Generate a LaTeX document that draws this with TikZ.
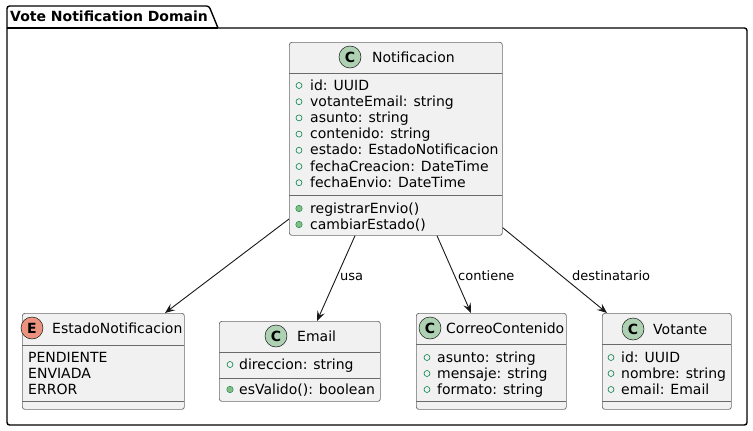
\documentclass[tikz,border=0pt]{standalone}
\usepackage{fontspec}
\setmainfont{DejaVu Sans}
\usetikzlibrary{arrows.meta,calc}
\definecolor{boxfill}{HTML}{F1F1F1}
\definecolor{boxline}{HTML}{181818}
\definecolor{boxedge}{HTML}{6A6A6A}
\definecolor{cfill}{HTML}{ADD1B2}
\definecolor{efill}{HTML}{EB937F}
\definecolor{attrgreen}{HTML}{038048}
\definecolor{methfill}{HTML}{84BE84}
\tikzset{
  classbox/.style={draw=boxedge, fill=boxfill, line width=0.7pt, rounded corners=2.5pt, inner sep=0pt, anchor=north west},
  sepline/.style={draw=boxedge, line width=0.7pt},
  txt/.style={anchor=base west, inner sep=0pt, font=\fontsize{14}{16}\selectfont},
  lbl/.style={anchor=base west, inner sep=0pt, font=\fontsize{13}{15}\selectfont},
  hdrc/.style={circle, draw=boxline, line width=0.5pt, fill=cfill, minimum size=22pt, inner sep=0pt, font=\fontsize{14}{16}\selectfont\bfseries},
  hdre/.style={hdrc, fill=efill},
  attr/.style={circle, draw=attrgreen, line width=0.6pt, fill=none, minimum size=6pt, inner sep=0pt},
  meth/.style={circle, draw=attrgreen, line width=0.4pt, fill=methfill, minimum size=6.5pt, inner sep=0pt},
  arr/.style={draw=boxline, line width=0.9pt, -{Stealth[length=10pt, width=8pt, inset=4pt]}},
  pkg/.style={draw=black, line width=1.4pt, rounded corners=2.5pt}
}
\begin{document}
\begin{tikzpicture}[x=1pt, y=-1pt]
\useasboundingbox (0,0) rectangle (753,431);
% package
\draw[pkg] (218,28) -- (747,28) -- (747,425) -- (7,425) -- (7,6) -- (209,6) -- (218,28);
\draw[pkg] (218,28) -- (7,28);
\node[txt, font=\fontsize{14}{16}\selectfont\bfseries] (ptitle) at (10,21) {Vote Notification Domain};

% Notificacion
\node[classbox, minimum width=213pt, minimum height=193pt] (notif) at (289,42) {};
\node[hdrc] (notifc) at (350,57) {C};
\node[txt] (notifn) at (372,62) {Notificacion};
\draw[sepline] (289,73) -- (502,73);
\draw[sepline] (289,195) -- (502,195);
\foreach \t [count=\i from 0] in {id: UUID, votanteEmail: string, asunto: string, contenido: string, estado: EstadoNotificacion, fechaCreacion: DateTime, fechaEnvio: DateTime} {
  \node[attr] (na\i) at (299,{90+16.2*\i-4.5}) {};
  \node[txt] (nt\i) at (310,{90+16.2*\i}) {\t};
}
\node[meth] (nm0) at (299,208.5) {};
\node[txt] (nmt0) at (310,213) {registrarEnvio()};
\node[meth] (nm1) at (299,224.5) {};
\node[txt] (nmt1) at (310,229) {cambiarEstado()};

% EstadoNotificacion
\node[classbox, minimum width=162pt, minimum height=96pt] (estado) at (22,313) {};
\node[hdre] (estadoc) at (32,328) {E};
\node[txt] (estadon) at (52,333) {EstadoNotificacion};
\draw[sepline] (22,345) -- (184,345);
\draw[sepline] (22,401) -- (184,401);
\node[txt] (el0) at (28,362) {PENDIENTE};
\node[txt] (el1) at (28,378) {ENVIADA};
\node[txt] (el2) at (28,394) {ERROR};

% Email
\node[classbox, minimum width=161pt, minimum height=80pt] (email) at (219,321) {};
\node[hdrc] (emailc) at (276,336) {C};
\node[txt] (emailn) at (297,341) {Email};
\draw[sepline] (219,352) -- (380,352);
\draw[sepline] (219,378) -- (380,378);
\node[attr] (ea0) at (230,364.5) {};
\node[txt] (et0) at (239,369) {direccion: string};
\node[meth] (em0) at (230,389.5) {};
\node[txt] (emt0) at (239,394) {esValido(): boolean};

% CorreoContenido
\node[classbox, minimum width=150pt, minimum height=96pt] (correo) at (416,313) {};
\node[hdrc] (correoc) at (430,328) {C};
\node[txt] (correon) at (446,333) {CorreoContenido};
\draw[sepline] (416,344) -- (566,344);
\draw[sepline] (416,401) -- (566,401);
\foreach \t [count=\i from 0] in {asunto: string, mensaje: string, formato: string} {
  \node[attr] (ca\i) at (427,{362+16*\i-4.5}) {};
  \node[txt] (ct\i) at (437,{362+16*\i}) {\t};
}

% Votante
\node[classbox, minimum width=129pt, minimum height=96pt] (votante) at (602,313) {};
\node[hdrc] (votantec) at (633,329) {C};
\node[txt] (votanten) at (653,334) {Votante};
\draw[sepline] (602,344) -- (731,344);
\draw[sepline] (602,401) -- (731,401);
\foreach \t [count=\i from 0] in {id: UUID, nombre: string, email: Email} {
  \node[attr] (va\i) at (611,{362+16*\i-4.5}) {};
  \node[txt] (vt\i) at (621,{362+16*\i}) {\t};
}

% connectors
\coordinate (s1) at ($(notif.north west)+(0,177)$);
\coordinate (s2) at ($(notif.south west)+(66,0)$);
\coordinate (s3) at ($(notif.south west)+(148,0)$);
\coordinate (s4) at ($(notif.south east)+(0,-8)$);
\coordinate (t1) at ($(estado.north west)+(143,0)$);
\coordinate (t2) at ($(email.north west)+(98,0)$);
\coordinate (t3) at ($(correo.north west)+(55,0)$);
\coordinate (t4) at ($(votante.north west)+(5,0)$);
\draw[arr] (s1) -- (t1);
\draw[arr] (s2) -- (t2);
\draw[arr] (s3) -- (t3);
\draw[arr] (s4) -- (t4);
\node[lbl] (l2) at (340,280) {usa};
\node[lbl] (l3) at (458,280) {contiene};
\node[lbl] (l4) at (572,280) {destinatario};
\end{tikzpicture}
\end{document}
